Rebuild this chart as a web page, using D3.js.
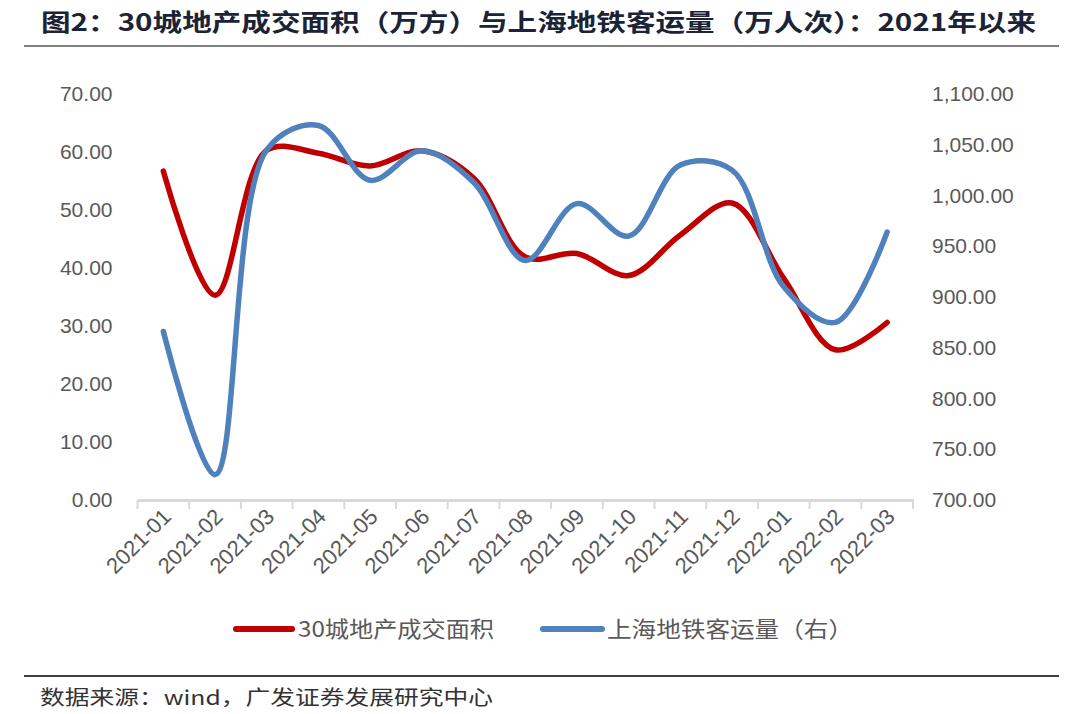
<!DOCTYPE html>
<html><head><meta charset="utf-8">
<script src="https://cdn.jsdelivr.net/npm/d3@7"></script>
<style>
html,body{margin:0;padding:0;background:#fff;}
svg{display:block;}
</style></head>
<body>
<svg id="chart" width="1080" height="714"></svg>
<script>
const categories = ["2021-01","2021-02","2021-03","2021-04","2021-05","2021-06","2021-07","2021-08","2021-09","2021-10","2021-11","2021-12","2022-01","2022-02","2022-03"];
const areaValues = [56.7, 35.3, 60.3, 59.8, 57.6, 60.2, 55.5, 41.9, 42.5, 38.7, 45.7, 51.2, 38.2, 25.9, 30.6];
const metroValues = [866, 725, 1045, 1069, 1015, 1044, 1013, 936, 992, 960, 1030, 1025, 910, 875, 964];
const leftTicks = [0, 10, 20, 30, 40, 50, 60, 70];
const rightTicks = [700, 750, 800, 850, 900, 950, 1000, 1050, 1100];
const seriesNames = ["30城地产成交面积", "上海地铁客运量（右）"];
const titleText = "图2：30城地产成交面积（万方）与上海地铁客运量（万人次）：2021年以来";
const sourceText = "数据来源：wind，广发证券发展研究中心";

const svg = d3.select("#chart");
const cjk = "'Noto Sans CJK SC', 'Noto Sans', sans-serif";
const latin = "'Liberation Sans', Arial, sans-serif";

// title
svg.append("text").attr("x", 41).attr("y", 31)
  .attr("font-family", cjk).attr("font-weight", "bold").attr("font-size", 24)
  .attr("fill", "#1b2336")
  .attr("textLength", 995).attr("lengthAdjust", "spacingAndGlyphs")
  .text(titleText);
svg.append("line").attr("x1", 24).attr("x2", 1059).attr("y1", 46).attr("y2", 46)
  .attr("stroke", "#7f7f7f").attr("stroke-width", 2);

const x = d3.scaleBand().domain(categories).range([137.5, 913]);
const yL = d3.scaleLinear().domain([0, 70]).range([500, 94]);
const yR = d3.scaleLinear().domain([700, 1100]).range([500, 94]);
const cx = d => x(d) + x.bandwidth() / 2;

// left axis
const gl = svg.append("g").attr("transform", "translate(137.5,0)")
  .call(d3.axisLeft(yL).tickValues(leftTicks).tickFormat(d3.format(".2f")).tickSize(0).tickPadding(25));
gl.select(".domain").remove();
gl.selectAll("text").attr("font-family", latin).attr("font-size", 21).attr("fill", "#595959");

// right axis
const gr = svg.append("g").attr("transform", "translate(913,0)")
  .call(d3.axisRight(yR).tickValues(rightTicks).tickFormat(d3.format(",.2f")).tickSize(0).tickPadding(19));
gr.select(".domain").remove();
gr.selectAll("text").attr("font-family", latin).attr("font-size", 21).attr("fill", "#595959");

// bottom axis
const gb = svg.append("g").attr("transform", "translate(0,500)")
  .call(d3.axisBottom(x).tickSize(0).tickPadding(0));
gb.select(".domain").attr("stroke", "#d9d9d9").attr("stroke-width", 3);
gb.selectAll("text")
  .attr("font-family", latin).attr("font-size", 22).attr("fill", "#595959")
  .attr("text-anchor", "end")
  .attr("y", 0).attr("dy", 0)
  .attr("transform", "translate(9,18) rotate(-45)");
const bounds = categories.map(c => x(c)).concat([x.range()[1]]);
svg.append("g").selectAll("line").data(bounds).join("line")
  .attr("x1", d => d).attr("x2", d => d).attr("y1", 500).attr("y2", 509)
  .attr("stroke", "#d9d9d9").attr("stroke-width", 2);

// lines
const curve = d3.curveCatmullRom.alpha(0.5);
const lineL = d3.line().x((d, i) => cx(categories[i])).y(d => yL(d)).curve(curve);
const lineR = d3.line().x((d, i) => cx(categories[i])).y(d => yR(d)).curve(curve);
svg.append("path").datum(areaValues).attr("d", lineL)
  .attr("fill", "none").attr("stroke", "#c00000").attr("stroke-width", 5.5).attr("stroke-linecap", "round");
svg.append("path").datum(metroValues).attr("d", lineR)
  .attr("fill", "none").attr("stroke", "#4f81bd").attr("stroke-width", 5.5).attr("stroke-linecap", "round");

// legend
const legend = [
  {name: seriesNames[0], color: "#c00000", x1: 236, x2: 292, tx: 298, tl: 196},
  {name: seriesNames[1], color: "#4f81bd", x1: 543, x2: 602, tx: 607, tl: 246}
];
legend.forEach(l => {
  svg.append("line").attr("x1", l.x1).attr("x2", l.x2).attr("y1", 629).attr("y2", 629)
    .attr("stroke", l.color).attr("stroke-width", 6).attr("stroke-linecap", "round");
  svg.append("text").attr("x", l.tx).attr("y", 637)
    .attr("font-family", cjk).attr("font-size", 22).attr("fill", "#595959")
    .attr("textLength", l.tl).attr("lengthAdjust", "spacingAndGlyphs")
    .text(l.name);
});

// source
svg.append("line").attr("x1", 24).attr("x2", 1059).attr("y1", 676).attr("y2", 676)
  .attr("stroke", "#000").attr("stroke-width", 1.5);
svg.append("text").attr("x", 40).attr("y", 705)
  .attr("font-family", cjk).attr("font-size", 20).attr("fill", "#333")
  .attr("textLength", 453).attr("lengthAdjust", "spacingAndGlyphs")
  .text(sourceText);
</script>
</body></html>
